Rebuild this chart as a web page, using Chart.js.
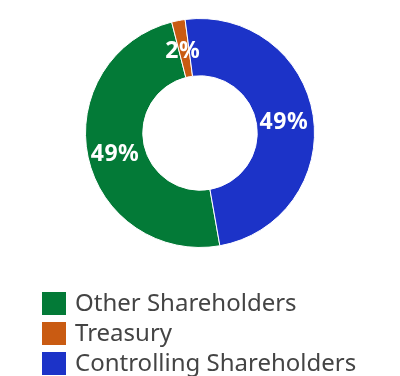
<!DOCTYPE html>
<html>
<head>
<meta charset="utf-8">
<script src="https://cdn.jsdelivr.net/npm/chart.js@4/dist/chart.umd.min.js"></script>
<style>
  html, body { margin: 0; padding: 0; background: #fff; }
  #wrap { width: 400px; height: 376px; position: relative; }
</style>
</head>
<body>
<div id="wrap"><canvas id="Graph"></canvas></div>
<script>
// Data
const categories = ['Other Shareholders', 'Treasury', 'Controlling Shareholders'];
const shares = [48.8, 1.9, 49.3];
const sliceColors = ['#037a37', '#c95b12', '#1c33c8'];

// Draws the % text in the middle of each ring slice
const sliceLabels = {
    id: 'sliceLabels',
    afterDatasetsDraw(chart) {
        const ctx = chart.ctx;
        const meta = chart.getDatasetMeta(0);
        const total = shares.reduce((a, b) => a + b, 0);
        ctx.save();
        ctx.font = 'bold 23px "Noto Sans"';
        ctx.letterSpacing = '0.5px';
        ctx.fillStyle = '#fff';
        ctx.textAlign = 'center';
        ctx.textBaseline = 'middle';
        meta.data.forEach((arc, i) => {
            const p = arc.tooltipPosition();
            ctx.fillText(Math.round(shares[i] / total * 100) + '%', p.x - 1, p.y + 3);
        });
        ctx.restore();
    }
};

// Vertical legend under the doughnut, one row per category
const stackedLegend = {
    id: 'stackedLegend',
    afterDraw(chart) {
        const ctx = chart.ctx;
        ctx.save();
        ctx.font = '24px "Noto Sans"';
        ctx.textBaseline = 'middle';
        chart.data.labels.forEach((label, i) => {
            const top = 292 + i * 30;
            ctx.fillStyle = sliceColors[i];
            ctx.fillRect(42, top, 24, 23);
            ctx.fillStyle = '#444444';
            ctx.fillText(label, 75, top + 12);
        });
        ctx.restore();
    }
};

const ctx = document.getElementById('Graph').getContext('2d');
new Chart(ctx, {
    type: 'doughnut',
    data: {
        labels: categories,
        datasets: [{
            data: shares,
            backgroundColor: sliceColors,
            borderColor: '#fff',
            borderWidth: 1
        }]
    },
    options: {
        responsive: true,
        maintainAspectRatio: false,
        animation: false,
        cutout: '50%',
        rotation: 170,
        layout: {
            padding: { top: 18, bottom: 128 }
        },
        plugins: {
            legend: { display: false },
            tooltip: { enabled: false }
        }
    },
    plugins: [sliceLabels, stackedLegend]
});
</script>
</body>
</html>
